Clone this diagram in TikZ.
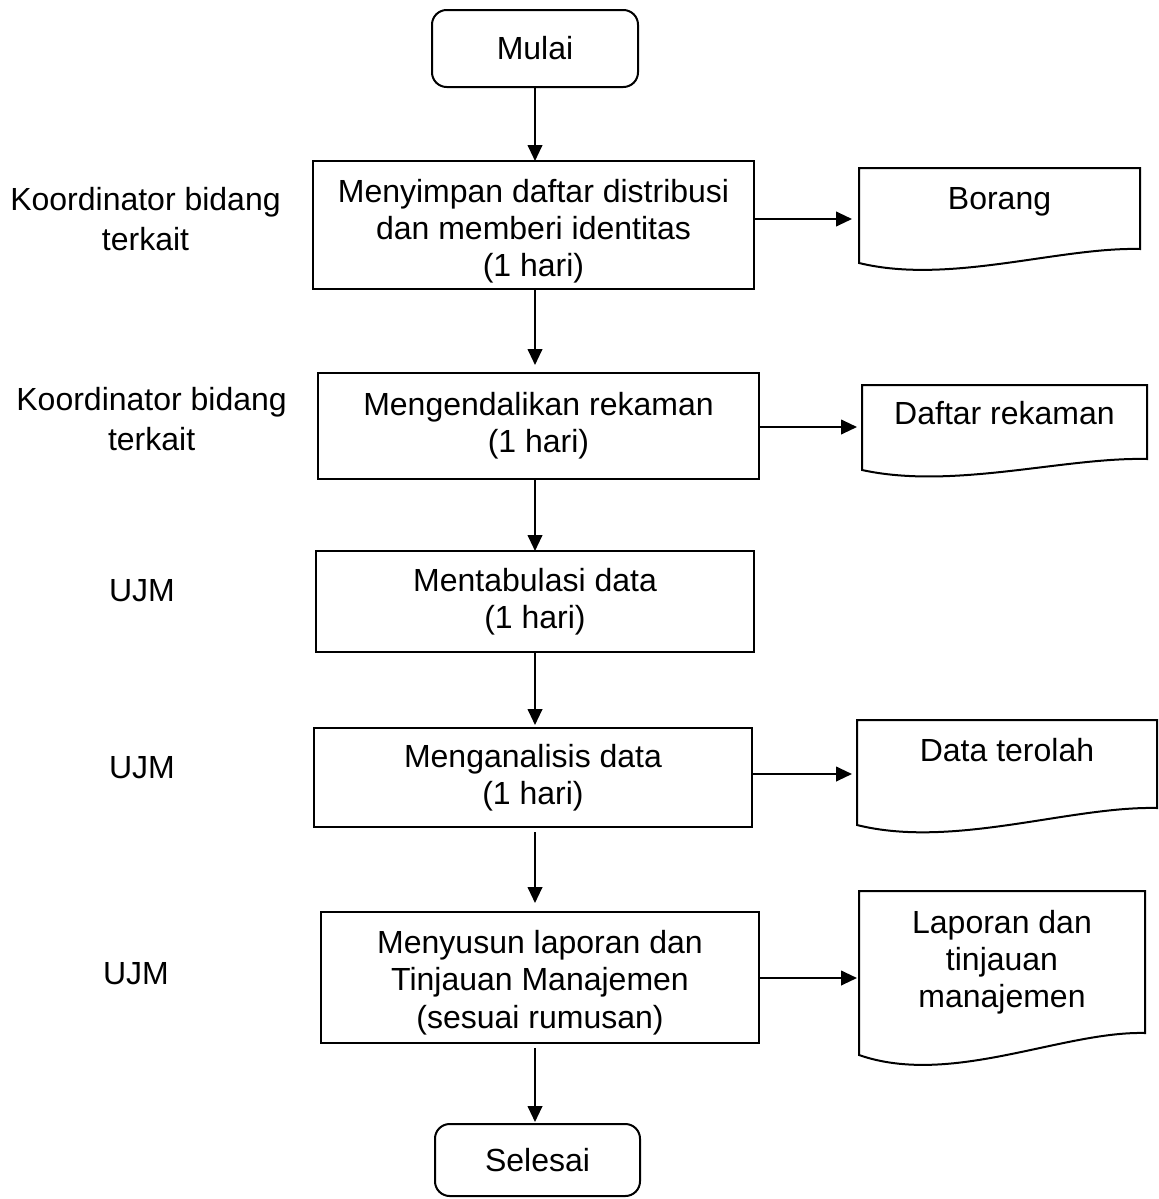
\documentclass[tikz,border=0pt]{standalone}
\usepackage{fontspec}
\setmainfont{Liberation Sans}
\usetikzlibrary{arrows.meta,calc}
\newcommand{\lowerfirst}[1]{\rule{0pt}{#1}}
\tikzset{
  every node/.style={font=\fontsize{24pt}{28pt}\selectfont, inner sep=0pt, outer sep=0pt},
  linew/.style={line width=1.5pt, draw=black},
  procbox/.style={draw, linew, rectangle, align=center},
  termbox/.style={draw, linew, rectangle, rounded corners=11pt, align=center},
  docframe/.style={rectangle, draw=none},
  doctext/.style={anchor=north, align=center},
  lanetext/.style={align=center, font=\fontsize{24pt}{30pt}\selectfont},
  arr/.style={linew, -{Triangle[length=12pt,width=11pt]}},
}
\begin{document}
\begin{tikzpicture}[x=0.75pt, y=-0.75pt]
\useasboundingbox (0,0) rectangle (1159,1199);

% terminals and process boxes
\node[termbox, minimum width=154.5pt, minimum height=57.75pt] (mulai) at (535,48.5) {Mulai};
\node[procbox, minimum width=330.75pt, minimum height=96pt] (p1) at (533.5,225) {\lowerfirst{26.5pt}Menyimpan daftar distribusi\\dan memberi identitas\\(1 hari)};
\node[procbox, minimum width=330.75pt, minimum height=79.5pt] (p2) at (538.5,426) {Mengendalikan rekaman\\(1 hari)};
\node[procbox, minimum width=328.5pt, minimum height=75.75pt] (p3) at (535,601.5) {Mentabulasi data\\(1 hari)};
\node[procbox, minimum width=328.5pt, minimum height=74.25pt] (p4) at (533,777.5) {Menganalisis data\\(1 hari)};
\node[procbox, minimum width=328.5pt, minimum height=98.25pt] (p5) at (540,977.5) {\lowerfirst{25pt}Menyusun laporan dan\\Tinjauan Manajemen\\(sesuai rumusan)};
\node[termbox, minimum width=153.75pt, minimum height=54pt] (selesai) at (537.5,1160) {Selesai};

% lane labels
\node[lanetext, anchor=north] (l1) at (145.5,187) {Koordinator bidang\\terkait};
\node[lanetext, anchor=north] (l2) at (151.6,387) {Koordinator bidang\\terkait};
\node (l3) at (142,591) {UJM};
\node (l4) at (142,767.5) {UJM};
\node (l5) at (136,974) {UJM};

% documents
\node[docframe, minimum width=210.75pt, minimum height=60.75pt] (d1) at (999.5,208.5) {};
\draw[linew] (d1.south east) -- (d1.north east) -- (d1.north west) -- (859,263)
  .. controls (949,285) and (1058.5,247) .. cycle;
\node[doctext] (t1) at (999.5,187) {Borang};

\node[docframe, minimum width=213.75pt, minimum height=55.5pt] (d2) at (1004.5,422) {};
\draw[linew] (d2.south east) -- (d2.north east) -- (d2.north west) -- (862,470)
  .. controls (953.2,490) and (1064.4,457) .. cycle;
\node[doctext] (t2) at (1004.5,401.7) {Daftar rekaman};

\node[docframe, minimum width=225pt, minimum height=66pt] (d3) at (1007,764) {};
\draw[linew] (d3.south east) -- (d3.north east) -- (d3.north west) -- (857,825)
  .. controls (953,849) and (1070,806) .. cycle;
\node[doctext] (t3) at (1007,738.7) {Data terolah};

\node[docframe, minimum width=214.5pt, minimum height=106.5pt] (d4) at (1002,962) {};
\draw[linew] (d4.south east) -- (d4.north east) -- (d4.north west) -- (859,1055)
  .. controls (950.5,1087) and (1062,1031) .. cycle;
\node[doctext] (t4) at (1002,910) {Laporan dan\\tinjauan\\manajemen};

% vertical connectors
\draw[arr] (mulai.south) -- (p1.north -| mulai.south);
\draw[arr, shorten >=6pt] (p1.south -| mulai.south) -- (p2.north -| mulai.south);
\draw[arr] (p2.south -| mulai.south) -- (p3.north -| mulai.south);
\draw[arr, shorten >=2.25pt] (p3.south -| mulai.south) -- (p4.north -| mulai.south);
\draw[arr, shorten <=3.75pt, shorten >=6.75pt] (p4.south -| mulai.south) -- (p5.north -| mulai.south);
\draw[arr, shorten <=3.75pt, shorten >=1.5pt] (p5.south -| mulai.south) -- (selesai.north -| mulai.south);

% horizontal connectors
\coordinate (y1) at (0,219);
\coordinate (y2) at (0,427);
\coordinate (y3) at (0,774);
\coordinate (y4) at (0,978);
\draw[arr, shorten >=5.25pt] (p1.east |- y1) -- (d1.west |- y1);
\draw[arr, shorten >=3.75pt] (p2.east |- y2) -- (d2.west |- y2);
\draw[arr, shorten >=3.75pt] (p4.east |- y3) -- (d3.west |- y3);
\draw[arr, shorten >=1.5pt] (p5.east |- y4) -- (d4.west |- y4);
\end{tikzpicture}
\end{document}
